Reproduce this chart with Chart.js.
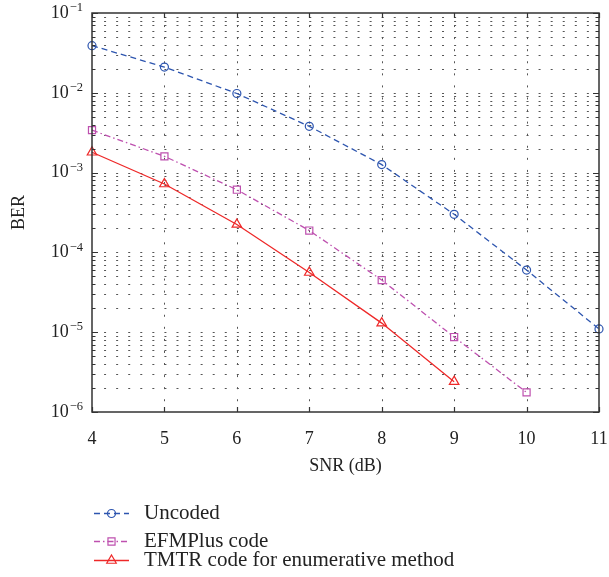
<!DOCTYPE html>
<html>
<head>
<meta charset="utf-8">
<script src="https://cdn.jsdelivr.net/npm/chart.js@4.4.1/dist/chart.umd.min.js"></script>
<style>
  html, body { margin: 0; padding: 0; background: #fff; }
  #wrap { width: 609px; height: 577px; }
</style>
</head>
<body>
<div id="wrap"><canvas id="berChart" width="609" height="577"></canvas></div>
<script>
// values
const snr = [4, 5, 6, 7, 8, 9, 10, 11];
const uncoded = [0.039, 0.021, 0.0098, 0.0038, 0.00126, 0.0003, 6.0e-5, 1.1e-5];
const efmPlus = [0.0034, 0.0016, 6.1e-4, 1.88e-4, 4.5e-5, 8.7e-6, 1.76e-6];
const tmtr = [0.0018, 7.2e-4, 2.24e-4, 5.6e-5, 1.3e-5, 2.4e-6];
const seriesNames = ['Uncoded', 'EFMPlus code', 'TMTR code for enumerative method'];
const berDecades = [-6, -5, -4, -3, -2, -1];

const serif = "'Liberation Serif', 'DejaVu Serif', serif";
const textColor = '#222';

function toPoints(values) {
  return values.map(function (v, i) { return { x: snr[i], y: v }; });
}

function drawMarker(ctx, style, r, px, py) {
  ctx.beginPath();
  if (style === 'circle') {
    ctx.arc(px, py, r, 0, Math.PI * 2);
  } else if (style === 'rect') {
    const s = r * Math.SQRT1_2;
    ctx.rect(px - s, py - s, 2 * s, 2 * s);
  } else {
    ctx.moveTo(px, py - r);
    ctx.lineTo(px + r * 0.866, py + r * 0.5);
    ctx.lineTo(px - r * 0.866, py + r * 0.5);
    ctx.closePath();
  }
  ctx.stroke();
}

// grid, box, inward ticks, y labels and legend in MATLAB style
const matlabFrame = {
  id: 'matlabFrame',
  beforeDatasetsDraw(chart) {
    const ctx = chart.ctx;
    const a = chart.chartArea;
    const x = chart.scales.x, y = chart.scales.y;
    ctx.save();
    ctx.strokeStyle = '#555';
    ctx.lineWidth = 1;
    ctx.setLineDash([2, 10.07]);
    y.ticks.forEach(function (t) {
      const py = Math.round(y.getPixelForValue(t.value)) + 0.5;
      if (py <= a.top + 1 || py >= a.bottom - 1) return;
      ctx.beginPath(); ctx.moveTo(a.left, py); ctx.lineTo(a.right, py); ctx.stroke();
    });
    x.ticks.forEach(function (t) {
      const px = Math.round(x.getPixelForValue(t.value)) + 0.5;
      if (px <= a.left + 1 || px >= a.right - 1) return;
      ctx.beginPath(); ctx.moveTo(px, a.top); ctx.lineTo(px, a.bottom); ctx.stroke();
    });
    ctx.restore();
  },
  afterDatasetsDraw(chart) {
    const ctx = chart.ctx;
    const a = chart.chartArea;
    const x = chart.scales.x, y = chart.scales.y;
    ctx.save();
    ctx.strokeStyle = '#333';
    ctx.lineWidth = 1.5;
    ctx.strokeRect(a.left, a.top, a.right - a.left, a.bottom - a.top);
    ctx.lineWidth = 1.2;
    y.ticks.forEach(function (t) {
      const py = Math.round(y.getPixelForValue(t.value)) + 0.5;
      const e = Math.log10(t.value);
      const len = Math.abs(e - Math.round(e)) < 1e-6 ? 6 : 3.5;
      ctx.beginPath();
      ctx.moveTo(a.left, py); ctx.lineTo(a.left + len, py);
      ctx.moveTo(a.right, py); ctx.lineTo(a.right - len, py);
      ctx.stroke();
    });
    x.ticks.forEach(function (t) {
      const px = Math.round(x.getPixelForValue(t.value)) + 0.5;
      ctx.beginPath();
      ctx.moveTo(px, a.bottom); ctx.lineTo(px, a.bottom - 5);
      ctx.moveTo(px, a.top); ctx.lineTo(px, a.top + 5);
      ctx.stroke();
    });
    ctx.restore();
  },
  afterDraw(chart) {
    const ctx = chart.ctx;
    const y = chart.scales.y;
    ctx.save();
    ctx.fillStyle = textColor;
    ctx.textBaseline = 'middle';
    berDecades.forEach(function (e) {
      const py = y.getPixelForValue(Math.pow(10, e));
      const expText = '\u2212' + Math.abs(e);
      ctx.font = '12.5px ' + serif;
      const ew = ctx.measureText(expText).width;
      ctx.textAlign = 'left';
      ctx.fillText(expText, 83 - ew, py - 5);
      ctx.font = '18px ' + serif;
      ctx.textAlign = 'right';
      ctx.fillText('10', 83 - ew - 1, py);
    });

    // legend below the axes
    const rows = [513, 541, 560];
    chart.data.datasets.forEach(function (ds, i) {
      const ry = rows[i] + 0.5;
      ctx.strokeStyle = ds.borderColor;
      ctx.lineWidth = ds.borderWidth;
      ctx.setLineDash(ds.borderDash || []);
      ctx.beginPath(); ctx.moveTo(94, ry); ctx.lineTo(129, ry); ctx.stroke();
      ctx.setLineDash([]);
      ctx.lineWidth = 1.2;
      drawMarker(ctx, ds.pointStyle, ds.pointRadius, 111.5, ry);
      ctx.font = '21px ' + serif;
      ctx.textAlign = 'left';
      ctx.fillStyle = textColor;
      ctx.fillText(ds.label, 144, rows[i]);
    });
    ctx.restore();
  }
};

new Chart(document.getElementById('berChart'), {
  type: 'line',
  data: {
    datasets: [{
      label: seriesNames[0],
      data: toPoints(uncoded),
      borderColor: 'rgb(45, 85, 175)',
      borderWidth: 1.3,
      borderDash: [6, 4],
      pointStyle: 'circle',
      pointRadius: 4,
      pointBorderWidth: 1.2,
      pointBackgroundColor: 'rgba(0,0,0,0)',
      pointBorderColor: 'rgb(45, 85, 175)'
    }, {
      label: seriesNames[1],
      data: toPoints(efmPlus),
      borderColor: 'rgb(190, 80, 175)',
      borderWidth: 1.3,
      borderDash: [6, 3, 1.5, 3],
      pointStyle: 'rect',
      pointRadius: 5,
      pointBorderWidth: 1.2,
      pointBackgroundColor: 'rgba(0,0,0,0)',
      pointBorderColor: 'rgb(190, 80, 175)'
    }, {
      label: seriesNames[2],
      data: toPoints(tmtr),
      borderColor: 'rgb(238, 40, 40)',
      borderWidth: 1.3,
      pointStyle: 'triangle',
      pointRadius: 5.5,
      pointBorderWidth: 1.2,
      pointBackgroundColor: 'rgba(0,0,0,0)',
      pointBorderColor: 'rgb(238, 40, 40)'
    }]
  },
  options: {
    responsive: false,
    animation: false,
    clip: false,
    layout: { padding: { top: 13, right: 10, bottom: 95, left: 0 } },
    elements: { line: { tension: 0, fill: false } },
    plugins: { legend: { display: false }, tooltip: { enabled: false } },
    scales: {
      x: {
        type: 'linear',
        min: 4,
        max: 11,
        ticks: {
          stepSize: 1,
          padding: 8,
          color: textColor,
          font: { family: serif, size: 18 }
        },
        grid: { display: false },
        border: { display: false },
        title: {
          display: true,
          text: 'SNR (dB)',
          color: textColor,
          font: { family: serif, size: 18 },
          padding: { top: 0, bottom: 5 }
        },
        afterFit: function (scale) {
          scale.height = 70;
          scale.paddingLeft = 0;
          scale.paddingRight = 0;
        }
      },
      y: {
        type: 'logarithmic',
        min: 1e-6,
        max: 1e-1,
        ticks: { display: false },
        grid: { display: false },
        border: { display: false },
        title: {
          display: true,
          text: 'BER',
          color: textColor,
          font: { family: serif, size: 18 },
          padding: { top: 8, bottom: 0 }
        },
        afterBuildTicks: function (scale) {
          const ticks = [];
          berDecades.forEach(function (e) {
            const top = e === -1 ? 1 : 9;
            for (let m = 1; m <= top; m++) ticks.push({ value: m * Math.pow(10, e) });
          });
          scale.ticks = ticks;
        },
        afterFit: function (scale) { scale.width = 92; }
      }
    }
  },
  plugins: [matlabFrame]
});
</script>
</body>
</html>
